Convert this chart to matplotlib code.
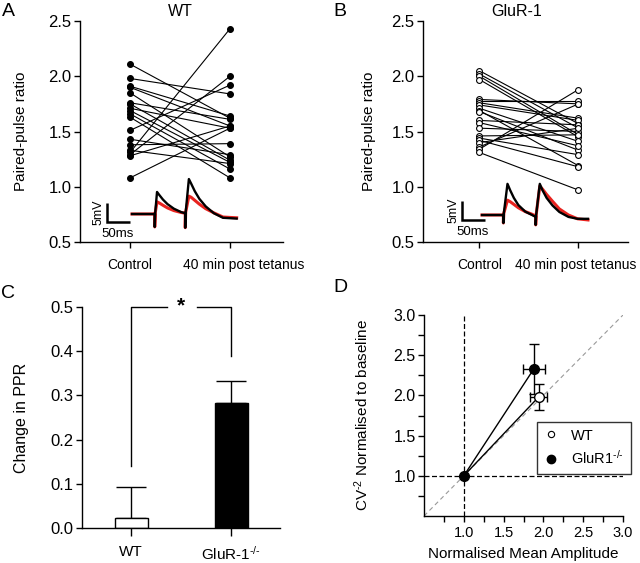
import matplotlib
matplotlib.use("Agg")
import matplotlib.pyplot as plt
from matplotlib.ticker import FixedLocator
from matplotlib.lines import Line2D
from matplotlib.transforms import ScaledTranslation

plt.rcParams['font.family'] = ['Liberation Sans', 'DejaVu Sans']
plt.rcParams['font.size'] = 11
plt.rcParams['axes.linewidth'] = 1.0
plt.rcParams['mathtext.fontset'] = 'custom'
plt.rcParams['mathtext.rm'] = 'Liberation Sans'
plt.rcParams['mathtext.it'] = 'Liberation Sans:italic'
plt.rcParams['mathtext.bf'] = 'Liberation Sans:bold'

# ---------------- data ----------------
conditions = ["Control", "40 min post tetanus"]

wt_control = [2.11, 1.98, 1.91, 1.90, 1.85, 1.76, 1.75, 1.71, 1.69, 1.66,
              1.63, 1.51, 1.43, 1.38, 1.33, 1.31, 1.29, 1.28, 1.08]
wt_post = [1.62, 1.84, 1.64, 1.55, 1.27, 1.61, 1.24, 1.53, 1.22, 1.16,
           1.08, 1.92, 1.29, 1.39, 1.21, 2.43, 2.00, 1.55, 1.53]

ko_control = [2.05, 2.02, 2.00, 1.97, 1.79, 1.78, 1.76, 1.74, 1.71, 1.69, 1.68,
              1.60, 1.58, 1.53, 1.46, 1.44, 1.42, 1.40, 1.36, 1.34, 1.31]
ko_post = [1.57, 1.53, 1.47, 1.45, 1.75, 1.78, 1.62, 1.60, 1.41, 1.19, 1.33,
           1.56, 1.37, 1.50, 1.47, 1.29, 1.18, 1.53, 1.75, 1.88, 0.97]

# example traces (ms, mV)
trA_t = [0, 49, 50, 50, 51, 55, 60, 68, 78, 92, 108, 117, 117, 118, 125, 130, 138, 148, 162, 180, 200, 230]
trA_black = [0, 0, 0, -3.4, 0.3, 5.8, 5.0, 3.8, 2.6, 1.4, 0.5, 0.2, -3.6, 0.5, 9.2, 8.0, 6.0, 4.0, 2.0, 0.2, -1.0, -1.2]
trA_red = [0, 0, 0, -3.4, 0.3, 3.2, 2.9, 2.3, 1.6, 0.9, 0.4, 0.2, -3.6, 0.5, 4.7, 4.4, 3.6, 2.6, 1.4, 0.3, -0.8, -1.0]

trB_t = [0, 46, 47, 47, 48, 56, 62, 70, 80, 95, 110, 118, 118, 119, 127, 133, 142, 155, 170, 190, 210, 233]
trB_black = [0, 0, 0, -2.1, 0.5, 8.2, 6.5, 4.5, 2.6, 0.9, 0.0, -0.5, -2.6, 0, 8.2, 6.5, 4.5, 2.5, 0.8, -0.5, -1.0, -1.0]
trB_red = [0, 0, 0, -2.1, 0.5, 3.9, 3.5, 2.8, 1.9, 0.9, 0.2, -0.3, -2.6, 0, 7.6, 6.8, 5.4, 3.6, 1.6, 0.0, -1.0, -1.3]

# panel C
groups = ["WT", r"GluR-1$^{\text{-/-}}$"]
ppr_change = [0.023, 0.283]
ppr_sem = [0.069, 0.050]
bracket_left, bracket_top, bracket_right = 0.14, 0.50, 0.39

# panel D
amp_wt, cv_wt, amp_wt_err, cv_wt_err = 1.94, 1.98, 0.11, 0.16
amp_ko, cv_ko, amp_ko_err, cv_ko_err = 1.88, 2.33, 0.14, 0.31

W, H = 640, 563
fig = plt.figure(figsize=(6.4, 5.63), dpi=100)


def px_axes(x0, y0, x1, y1):
    return fig.add_axes([x0 / W, 1 - y1 / H, (x1 - x0) / W, (y1 - y0) / H])


def style(ax, ysize=12, xsize=11):
    ax.spines['top'].set_visible(False)
    ax.spines['right'].set_visible(False)
    ax.tick_params(direction='out', length=4.5, width=1)
    ax.tick_params(axis='y', pad=1.5, labelsize=ysize)
    ax.tick_params(axis='x', pad=7, labelsize=xsize)


def shift_label(lab, dx_px):
    lab.set_transform(lab.get_transform() + ScaledTranslation(dx_px / 100, 0, fig.dpi_scale_trans))


def paired(ax, ctrl, post, filled):
    for c, p in zip(ctrl, post):
        ax.plot([0, 1], [c, p], color='black', lw=0.8,
                marker='o', ms=4.2, mfc='black' if filled else 'white',
                mec='black', mew=0.8, zorder=3)
    ax.set_ylim(0.5, 2.5)
    ax.set_yticks([0.5, 1.0, 1.5, 2.0, 2.5])
    ax.set_xticks([0, 1])
    ax.set_xticklabels(conditions)
    ax.set_ylabel("Paired-pulse ratio", fontsize=11)
    style(ax, xsize=10)


def trace(x0px, basepx, tx, vb, vr, sbx_px, sby_px):
    # inset in px, scale 0.455 px/ms, 3.8 px/mV
    sx, sy = 0.455, 3.8
    X0, X1, Y0, Y1 = x0px - 60, x0px + 125, basepx - 48, basepx + 30
    ia = px_axes(X0, Y0, X1, Y1)
    ia.set_xlim((X0 - x0px) / sx, (X1 - x0px) / sx)
    ia.set_ylim((basepx - Y1) / sy, (basepx - Y0) / sy)
    ia.axis('off')
    ia.patch.set_alpha(0)
    ia.plot(tx, vr, color='#e8231f', lw=2.2, zorder=2)
    ia.plot(tx, vb, color='black', lw=1.7, zorder=3)
    bx = (sbx_px - x0px) / sx
    by = (basepx - sby_px) / sy
    ia.plot([bx, bx, bx + 50], [by + 5, by, by], color='black', lw=1.8,
            solid_capstyle='butt', solid_joinstyle='miter')
    ia.text(bx - 5, by + 2.5, "5mV", rotation=90, ha='right', va='center', fontsize=9)
    ia.text(bx + 24, by - 1.5, "50ms", ha='center', va='top', fontsize=9.5)


# ---------------- Panel A ----------------
axA = px_axes(80, 21, 283, 242)
paired(axA, wt_control, wt_post, True)
axA.set_xlim(-0.5, 1.53)
axA.yaxis.set_label_coords(-0.255, 0.5)
shift_label(axA.get_xticklabels()[1], 14)
fig.text(180 / W, 1 - 12 / H, "WT", ha='center', va='center', fontsize=11.5)
trace(132, 214, trA_t, trA_black, trA_red, 107, 222)

# ---------------- Panel B ----------------
axB = px_axes(423, 21, 628, 242)
paired(axB, ko_control, ko_post, False)
axB.set_xlim(-0.57, 1.5)
axB.yaxis.set_label_coords(-0.23, 0.5)
shift_label(axB.get_xticklabels()[1], -3)
fig.text(517 / W, 1 - 12 / H, "GluR-1", ha='center', va='center', fontsize=11.5)
trace(482, 215, trB_t, trB_black, trB_red, 462, 220)

# ---------------- Panel C ----------------
axC = px_axes(82, 307, 280, 528)
xpos = [0, 1]
axC.bar(xpos, ppr_change, width=0.33, color=['white', 'black'],
        edgecolor='black', linewidth=1.0, zorder=2)
axC.errorbar(xpos, ppr_change, yerr=[[0, 0], ppr_sem], fmt='none',
             ecolor='black', elinewidth=1.0, capsize=11, capthick=1.0, zorder=1)
axC.set_xlim(-0.49, 1.49)
axC.set_ylim(0, 0.5)
axC.set_yticks([0.0, 0.1, 0.2, 0.3, 0.4, 0.5])
axC.set_yticklabels(["0.0", "0.1", "0.2", "0.3", "0.4", "0.5"])
axC.set_xticks(xpos)
axC.set_xticklabels(groups)
axC.set_ylabel("Change in PPR", fontsize=11.5)
axC.yaxis.set_label_coords(-0.27, 0.5)
style(axC)
axC.tick_params(axis='x', length=6, pad=6)
axC.plot([0, 0, 0.36], [bracket_left, bracket_top, bracket_top], color='black', lw=1.0, clip_on=False)
axC.plot([0.66, 1, 1], [bracket_top, bracket_top, bracket_right], color='black', lw=1.0, clip_on=False)
axC.text(0.5, bracket_top + 0.003, "*", ha='center', va='center', fontsize=15, fontweight='bold')

# ---------------- Panel D ----------------
axD = px_axes(424, 315, 623, 516)
axD.set_xlim(0.5, 3.0)
axD.set_ylim(0.5, 3.0)
axD.plot([0.5, 3.0], [0.5, 3.0], color='#999999', lw=0.8, ls=(0, (4, 3)), zorder=1)
axD.plot([0.5, 3.0], [1.0, 1.0], color='black', lw=0.9, ls=(0, (4, 2)), zorder=1)
axD.plot([1.0, 1.0], [0.5, 3.0], color='black', lw=0.9, ls=(0, (4, 2)), zorder=1)
axD.plot([1.0, amp_ko], [1.0, cv_ko], color='black', lw=1.0, zorder=2)
axD.plot([1.0, amp_wt], [1.0, cv_wt], color='black', lw=1.0, zorder=2)
axD.errorbar([amp_ko], [cv_ko], xerr=[amp_ko_err], yerr=[cv_ko_err], fmt='o',
             color='black', mfc='black', mec='black', ms=7, elinewidth=1.0,
             capsize=3.5, capthick=1.0, zorder=3)
axD.errorbar([amp_wt], [cv_wt], xerr=[amp_wt_err], yerr=[cv_wt_err], fmt='o',
             color='black', mfc='white', mec='black', ms=7, elinewidth=1.0,
             capsize=3.5, capthick=1.0, zorder=4)
axD.plot([1.0], [1.0], 'o', color='black', ms=7, zorder=5)
axD.xaxis.set_major_locator(FixedLocator([1.0, 1.5, 2.0, 2.5, 3.0]))
axD.xaxis.set_minor_locator(FixedLocator([0.75, 1.25, 1.75, 2.25, 2.75]))
axD.yaxis.set_major_locator(FixedLocator([1.0, 1.5, 2.0, 2.5, 3.0]))
axD.yaxis.set_minor_locator(FixedLocator([0.75, 1.25, 1.75, 2.25, 2.75]))
style(axD, ysize=11.5, xsize=10.5)
axD.tick_params(which='minor', direction='out', length=4.5, width=1)
axD.tick_params(axis='x', pad=3)
axD.set_xlabel("Normalised Mean Amplitude", fontsize=11)
axD.xaxis.set_label_coords(0.5, -0.155)
axD.set_ylabel(r"CV$^{\text{-2}}$ Normalised to baseline", fontsize=11)
axD.yaxis.set_label_coords(-0.265, 0.5)
handles = [Line2D([], [], ls='none', marker='o', ms=4.5, mfc='white', mec='black', mew=0.8),
           Line2D([], [], ls='none', marker='o', ms=6, mfc='black', mec='black')]
leg = axD.legend(handles, ["WT", r"GluR1$^{\text{-/-}}$"], loc='upper left',
                 bbox_to_anchor=(537 / W, 1 - 422 / H), bbox_transform=fig.transFigure,
                 frameon=True, fancybox=False, edgecolor='black', fontsize=10.5,
                 handlelength=1.0, handletextpad=0.9, borderpad=0.45, labelspacing=0.45,
                 borderaxespad=0)
leg.get_frame().set_linewidth(1.0)

# panel letters
for letter, (x, y) in zip("ABCD", [(8, 12), (340, 12), (8, 293), (340, 287)]):
    fig.text(x / W, 1 - y / H, letter, ha='center', va='center', fontsize=14)

fig.savefig("out.png", dpi=100)
